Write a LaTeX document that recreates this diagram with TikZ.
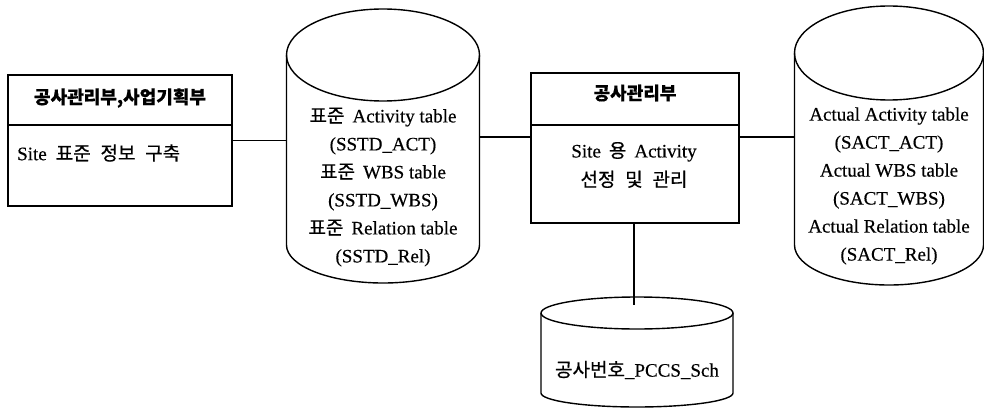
\documentclass[tikz,border=0pt]{standalone}
\usepackage{fontspec}
\setmainfont{Liberation Serif}[FakeBold=0.4]
\newfontfamily\kr{Noto Sans CJK KR}[WordSpace=2.3, FakeBold=0.5]
\newcommand\ko[1]{{\kr #1}}

\tikzset{
  panel/.style={draw, rectangle, inner sep=0pt, line width=1.4pt},
  rule/.style={line width=1.4pt},
  link/.style={line width=1.2pt},
  dbwall/.style={line width=1.4pt},
  titletext/.style={inner sep=0pt, font=\fontsize{18}{22}\selectfont\kr\bfseries},
  bodytext/.style={inner sep=0pt, align=center, font=\fontsize{19}{29}\selectfont},
  dbtext/.style={inner sep=0pt, align=center, font=\fontsize{19}{28}\selectfont}
}

% cylinder: centre x, top-ellipse centre y, x radius, top y radius,
% bottom-arc centre y, bottom y radius
\newcommand\drawdb[6]{%
  \draw[dbwall] (#1,#2) ellipse [x radius=#3pt, y radius=#4pt];
  \draw[dbwall] (#1-#3,#2) -- (#1-#3,#5)
     arc [start angle=180, end angle=360, x radius=#3pt, y radius=#6pt]
     -- (#1+#3,#2);
}

\begin{document}
\begin{tikzpicture}[x=1pt, y=-1pt]
  \useasboundingbox (0,0) rectangle (984,409);

  % planning departments
  \node[panel, minimum width=224pt, minimum height=131pt] (plan) at (120,140.5) {};
  \draw[rule] (plan.west |- 0,125) -- (plan.east |- 0,125);
  \node[titletext] (plantitle) at (120,98) {공사관리부,사업기획부};
  \node[bodytext, anchor=west] (plantext) at (17,153) {Site\hspace{9pt}\ko{표준 정보 구축}};

  % site management
  \node[panel, minimum width=208pt, minimum height=150pt] (site) at (635,148) {};
  \draw[rule] (site.west |- 0,125) -- (site.east |- 0,125);
  \node[titletext] (sitetitle) at (635,93) {공사관리부};
  \node[bodytext] (sitetext) at (634,165) {Site\hspace{8pt}\ko{용}\hspace{8pt}Activity\\\ko{선정 및 관리}};

  % standard tables
  \drawdb{383}{55}{96.5}{46}{245}{38}
  \node[inner sep=0pt, minimum width=193pt, minimum height=150pt] (std) at (383,170) {};
  \node[dbtext] (stdtext) at (383,187)
    {\ko{표준}\hspace{8pt}Activity table\\(SSTD\_ACT)\\\ko{표준}\hspace{8pt}WBS table\\(SSTD\_WBS)\\\ko{표준}\hspace{8pt}Relation table\\(SSTD\_Rel)};

  % actual tables
  \drawdb{889}{53}{94.5}{47}{245}{40}
  \node[inner sep=0pt, minimum width=189pt, minimum height=150pt] (act) at (889,170) {};
  \node[dbtext] (acttext) at (889,186)
    {Actual Activity table\\(SACT\_ACT)\\Actual WBS table\\(SACT\_WBS)\\Actual Relation table\\(SACT\_Rel)};

  % schedule table
  \drawdb{637}{313}{96}{16}{393}{14}
  \coordinate (schtop) at (634,305);
  \node[dbtext] (schtext) at (637,370) {\ko{공사번호}\_PCCS\_Sch};

  % connectors
  \draw[link] (plan.east) -- (plan.east -| std.west);
  \draw[link] (std.east |- 0,137) -- (site.west |- 0,137);
  \draw[link] (site.east |- 0,137) -- (act.west |- 0,137);
  \draw[link] (site.south -| schtop) -- (schtop);
\end{tikzpicture}
\end{document}
